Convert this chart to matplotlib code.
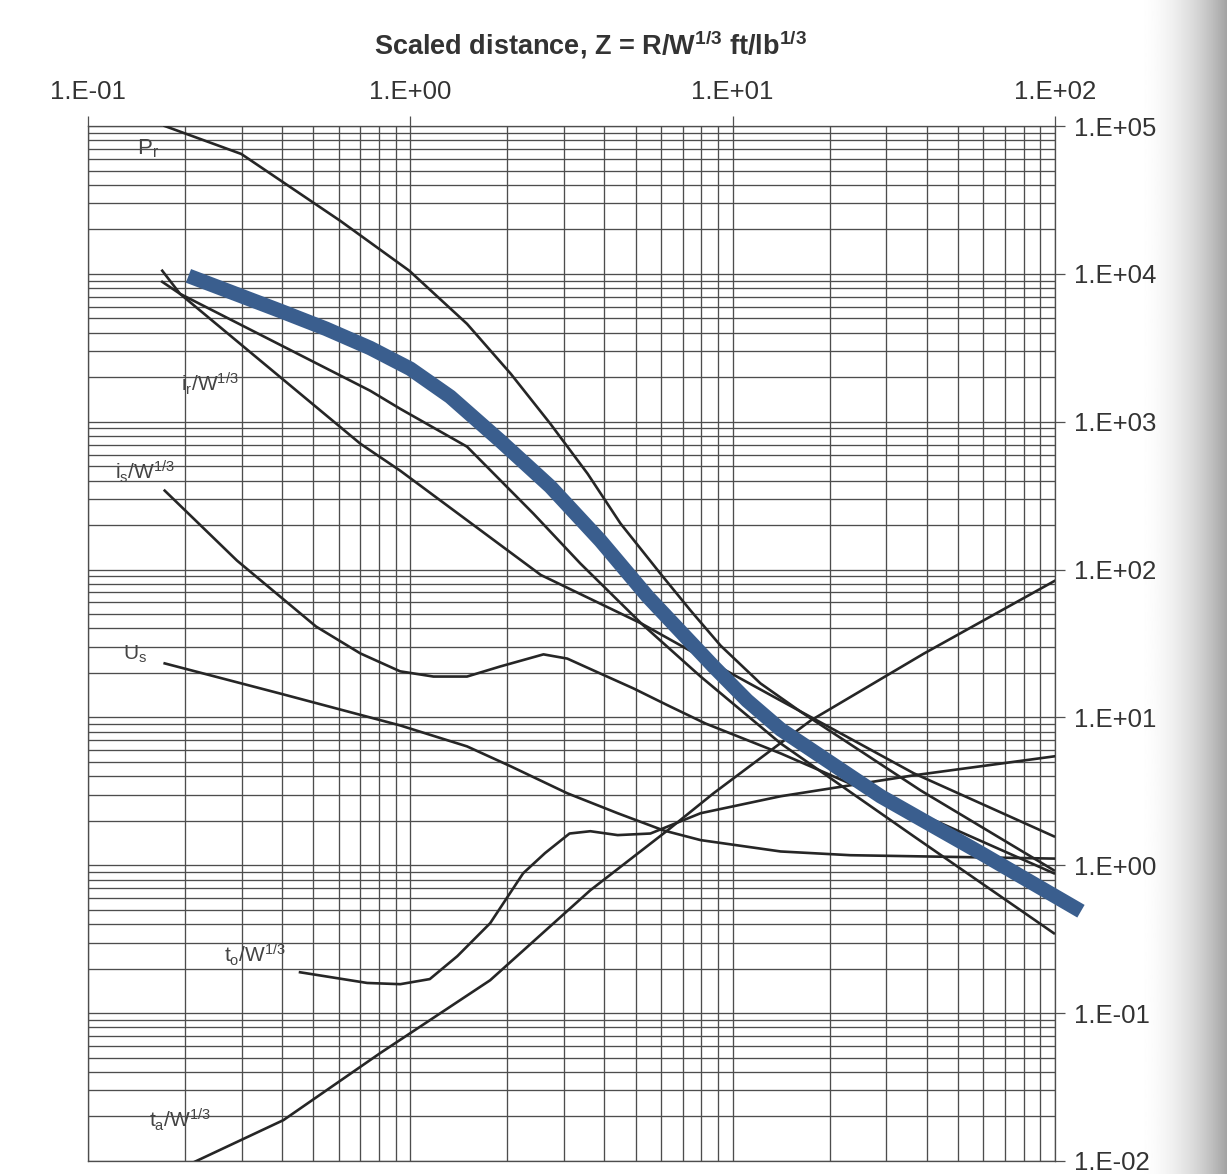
import numpy as np
import matplotlib
matplotlib.use('Agg')
import matplotlib.pyplot as plt
from matplotlib.ticker import LogLocator, NullFormatter

plt.rcParams['font.family'] = ['Liberation Sans', 'DejaVu Sans']
plt.rcParams['mathtext.default'] = 'regular'

# scaled distance Z (ft/lb^1/3) and parameter values
pr_z   = [0.173, 0.299, 0.607, 0.993, 1.50, 2.05, 2.72, 3.55, 4.49, 5.97, 7.41, 9.18, 12.2, 16.3, 38.4, 99.3]
pr_val = [1.0e5, 64700, 22800, 10500, 4590, 2110, 969, 445, 205, 94, 52.8, 30.6, 17.0, 10.9, 3.2, 0.925]

pso_z   = [0.170, 0.193, 0.751, 0.93, 1.50, 2.41, 3.37, 5.21, 7.96, 14.1, 36.5, 99.3]
pso_val = [8830, 7330, 1620, 1224, 678, 239, 110, 43.2, 18.9, 6.67, 1.57, 0.347]

ir_z   = [0.170, 0.193, 0.349, 0.70, 0.93, 2.54, 5.21, 8.36, 14.1, 36.5, 99.3]
ir_val = [10500, 7330, 2505, 710, 467, 92, 43.2, 24.3, 13.0, 4.19, 1.57]

is_z   = [0.173, 0.290, 0.510, 0.70, 0.93, 1.18, 1.50, 1.90, 2.59, 3.07, 3.89, 4.93, 6.28, 8.24, 14.1, 36.5, 99.3]
is_val = [342, 115, 41.2, 27.1, 20.5, 18.9, 18.9, 22.1, 26.7, 25.0, 19.8, 15.7, 12.1, 9.1, 5.71, 2.32, 0.883]

us_z   = [0.173, 0.395, 0.93, 1.50, 2.05, 3.07, 4.40, 6.11, 7.96, 14.1, 23.2, 99.3]
us_val = [23.2, 14.5, 8.83, 6.37, 4.67, 3.07, 2.25, 1.72, 1.48, 1.24, 1.17, 1.11]

to_z   = [0.455, 0.735, 0.931, 1.15, 1.40, 1.77, 2.24, 2.62, 3.12, 3.62, 4.40, 5.56, 7.96, 14.1, 36.5, 99.3]
to_val = [0.189, 0.160, 0.157, 0.17, 0.243, 0.406, 0.883, 1.21, 1.64, 1.70, 1.60, 1.64, 2.25, 2.93, 4.06, 5.45]

ta_z   = [0.200, 0.404, 0.807, 1.77, 3.62, 6.28, 8.73, 17.5, 39.2, 100]
ta_val = [0.0092, 0.0189, 0.0537, 0.167, 0.678, 1.72, 3.07, 9.55, 27.0, 84.0]

# thick overlay curve
blue_z   = [0.205, 0.395, 0.548, 0.751, 1.0, 1.33, 1.90, 2.72, 3.89, 5.45, 8.73, 11.1, 14.1, 28.8, 58.9, 120.5]
blue_val = [9690, 5620, 4250, 3150, 2280, 1476, 744, 364, 157, 65.7, 22.1, 13.0, 8.3, 2.93, 1.21, 0.489]

x_ticks = [0.1, 1, 10, 100]
x_tick_labels = ['1.E-01', '1.E+00', '1.E+01', '1.E+02']
y_ticks = [1e-2, 1e-1, 1, 10, 100, 1e3, 1e4, 1e5]
y_tick_labels = ['1.E-02', '1.E-01', '1.E+00', '1.E+01', '1.E+02', '1.E+03', '1.E+04', '1.E+05']

fig = plt.figure(figsize=(12.27, 11.74), dpi=100)

# scanner shadow at the right edge
gax = fig.add_axes([1135 / 1227, 0, 92 / 1227, 1], zorder=0)
t = np.linspace(0, 1, 200)
gax.imshow((1 - 0.36 * t ** 2.0)[None, :], aspect='auto', cmap='gray', vmin=0, vmax=1)
gax.axis('off')

ax = fig.add_axes([0.0717, 1 - 1161 / 1174, 0.788, (1161 - 126) / 1174], zorder=1)
ax.set_xscale('log')
ax.set_yscale('log')
ax.set_xlim(0.1, 100)
ax.set_ylim(0.01, 1e5)

ax.xaxis.set_minor_locator(LogLocator(base=10, subs=np.arange(2, 10), numticks=100))
ax.yaxis.set_minor_locator(LogLocator(base=10, subs=np.arange(2, 10), numticks=100))
ax.xaxis.set_minor_formatter(NullFormatter())
ax.yaxis.set_minor_formatter(NullFormatter())
ax.set_xticks(x_ticks)
ax.set_xticklabels(x_tick_labels)
ax.set_yticks(y_ticks)
ax.set_yticklabels(y_tick_labels)

ax.grid(which='both', color='#4d4d4d', lw=0.95)
ax.tick_params(which='major', top=True, right=True, bottom=False, left=False,
               labeltop=True, labelbottom=False, labelright=True, labelleft=False,
               length=7, width=0.9, color='#505050', labelsize=18.5, labelcolor='#333333')
ax.tick_params(axis='x', which='major', pad=9)
ax.tick_params(axis='y', which='major', pad=7)
ax.tick_params(which='minor', length=0)
for s in ax.spines.values():
    s.set_color('#4d4d4d')
    s.set_linewidth(0.95)

lc = '#262626'
for z, v in [(pr_z, pr_val), (pso_z, pso_val), (ir_z, ir_val), (is_z, is_val),
             (us_z, us_val), (to_z, to_val), (ta_z, ta_val)]:
    ax.plot(z, v, color=lc, lw=1.9, zorder=3)

ax.plot(blue_z, blue_val, color='#3a5e8e', lw=10.5, solid_capstyle='butt',
        solid_joinstyle='round', clip_on=False, zorder=5)

tc = '#444444'
ax.text(0.153, 7.0e4, 'P$_r$', fontsize=16, color=tc, ha='center', va='center')
ax.text(0.239, 1800, 'i$_r$/W$^{1/3}$', fontsize=15, color=tc, ha='center', va='center')
ax.text(0.150, 460, 'i$_s$/W$^{1/3}$', fontsize=15, color=tc, ha='center', va='center')
ax.text(0.140, 26.5, 'U$_s$', fontsize=15, color=tc, ha='center', va='center')
ax.text(0.330, 0.25, 't$_o$/W$^{1/3}$', fontsize=15, color=tc, ha='center', va='center')
ax.text(0.193, 0.019, 't$_a$/W$^{1/3}$', fontsize=15, color=tc, ha='center', va='center')

fig.text(590 / 1227, 1 - 45 / 1174, 'Scaled distance, Z = R/W$^{1/3}$ ft/lb$^{1/3}$',
         ha='center', va='center', fontsize=19.5, fontweight='bold', color='#333333')

fig.savefig('out.png', dpi=100)
